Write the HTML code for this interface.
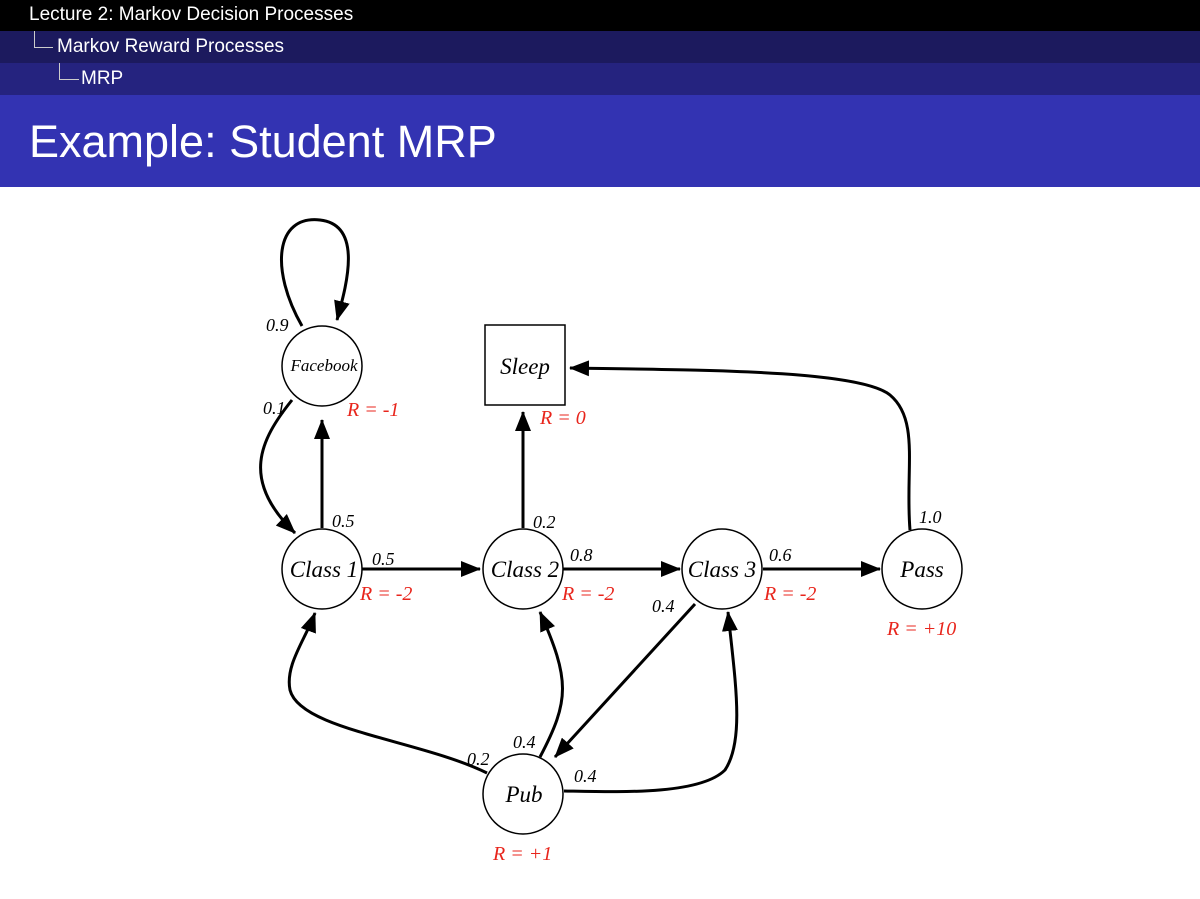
<!DOCTYPE html>
<html><head><style>
body{margin:0;width:1200px;height:899px;background:#fff;overflow:hidden;font-family:"Liberation Sans",sans-serif}
.b{position:absolute;left:0;width:1200px;color:#fff;font-size:19px}
</style></head><body>
<div class="b" style="top:0;height:31px;background:#000"><span style="position:absolute;left:29px;top:4px">Lecture 2: Markov Decision Processes</span></div>
<div class="b" style="top:31px;height:32px;background:#1c1a5e"><span style="position:absolute;left:34px;top:0;width:18px;height:16px;border-left:1px solid #ccc;border-bottom:1px solid #ccc"></span><span style="position:absolute;left:57px;top:5px">Markov Reward Processes</span></div>
<div class="b" style="top:63px;height:32px;background:#25237f"><span style="position:absolute;left:59px;top:0;width:19px;height:16px;border-left:1px solid #ccc;border-bottom:1px solid #ccc"></span><span style="position:absolute;left:81px;top:5px">MRP</span></div>
<div class="b" style="top:95px;height:92px;background:#3333b2"><span style="position:absolute;left:29px;top:21px;font-size:45px">Example: Student MRP</span></div>
<svg style="position:absolute;left:0;top:0" width="1200" height="899" font-family="Liberation Serif,serif" font-style="italic">
<defs><marker id="A" markerWidth="20" markerHeight="16" refX="19" refY="8" orient="auto" markerUnits="userSpaceOnUse"><path d="M0,0L20,8L0,16z"/></marker></defs>
<g fill="none" stroke="#000" stroke-width="3">
<path d="M302,326 C270,270 275,215 320,220 C365,225 345,290 337,320" marker-end="url(#A)"/>
<path d="M292,400 C260,440 240,480 295,533" marker-end="url(#A)"/>
<path d="M322,528 L322,420" marker-end="url(#A)"/>
<path d="M362,569 L480,569" marker-end="url(#A)"/>
<path d="M523,528 L523,412" marker-end="url(#A)"/>
<path d="M563,569 L680,569" marker-end="url(#A)"/>
<path d="M763,569 L880,569" marker-end="url(#A)"/>
<path d="M910,530 C905,470 920,420 890,395 C860,370 700,370 570,368" marker-end="url(#A)"/>
<path d="M695,604 L555,757" marker-end="url(#A)"/>
<path d="M487,773 C420,740 300,730 290,690 C285,665 305,640 315,613" marker-end="url(#A)"/>
<path d="M540,757 C570,700 570,680 540,612" marker-end="url(#A)"/>
<path d="M564,791 C620,792 700,795 725,770 C745,740 735,680 728,612" marker-end="url(#A)"/>
</g>
<g fill="#fff" stroke="#000" stroke-width="1.5">
<circle cx="322" cy="366" r="40"/><rect x="485" y="325" width="80" height="80"/>
<circle cx="322" cy="569" r="40"/><circle cx="523" cy="569" r="40"/><circle cx="722" cy="569" r="40"/><circle cx="922" cy="569" r="40"/><circle cx="523" cy="794" r="40"/>
</g>
<g font-size="23" text-anchor="middle">
<text x="324" y="371" font-size="17">Facebook</text><text x="525" y="374">Sleep</text>
<text x="324" y="577">Class 1</text><text x="525" y="577">Class 2</text><text x="722" y="577">Class 3</text><text x="922" y="577">Pass</text><text x="524" y="802">Pub</text>
</g>
<g font-size="18">
<text x="266" y="331">0.9</text><text x="263" y="414">0.1</text><text x="332" y="527">0.5</text><text x="372" y="565">0.5</text>
<text x="533" y="528">0.2</text><text x="570" y="561">0.8</text><text x="769" y="561">0.6</text><text x="919" y="523">1.0</text>
<text x="652" y="612">0.4</text><text x="467" y="765">0.2</text><text x="513" y="748">0.4</text><text x="574" y="782">0.4</text>
</g>
<g font-size="20" fill="#e8251c">
<text x="347" y="416">R = -1</text><text x="540" y="424">R = 0</text><text x="360" y="600">R = -2</text><text x="562" y="600">R = -2</text><text x="764" y="600">R = -2</text><text x="887" y="635">R = +10</text><text x="493" y="860">R = +1</text>
</g>
</svg>
</body></html>
